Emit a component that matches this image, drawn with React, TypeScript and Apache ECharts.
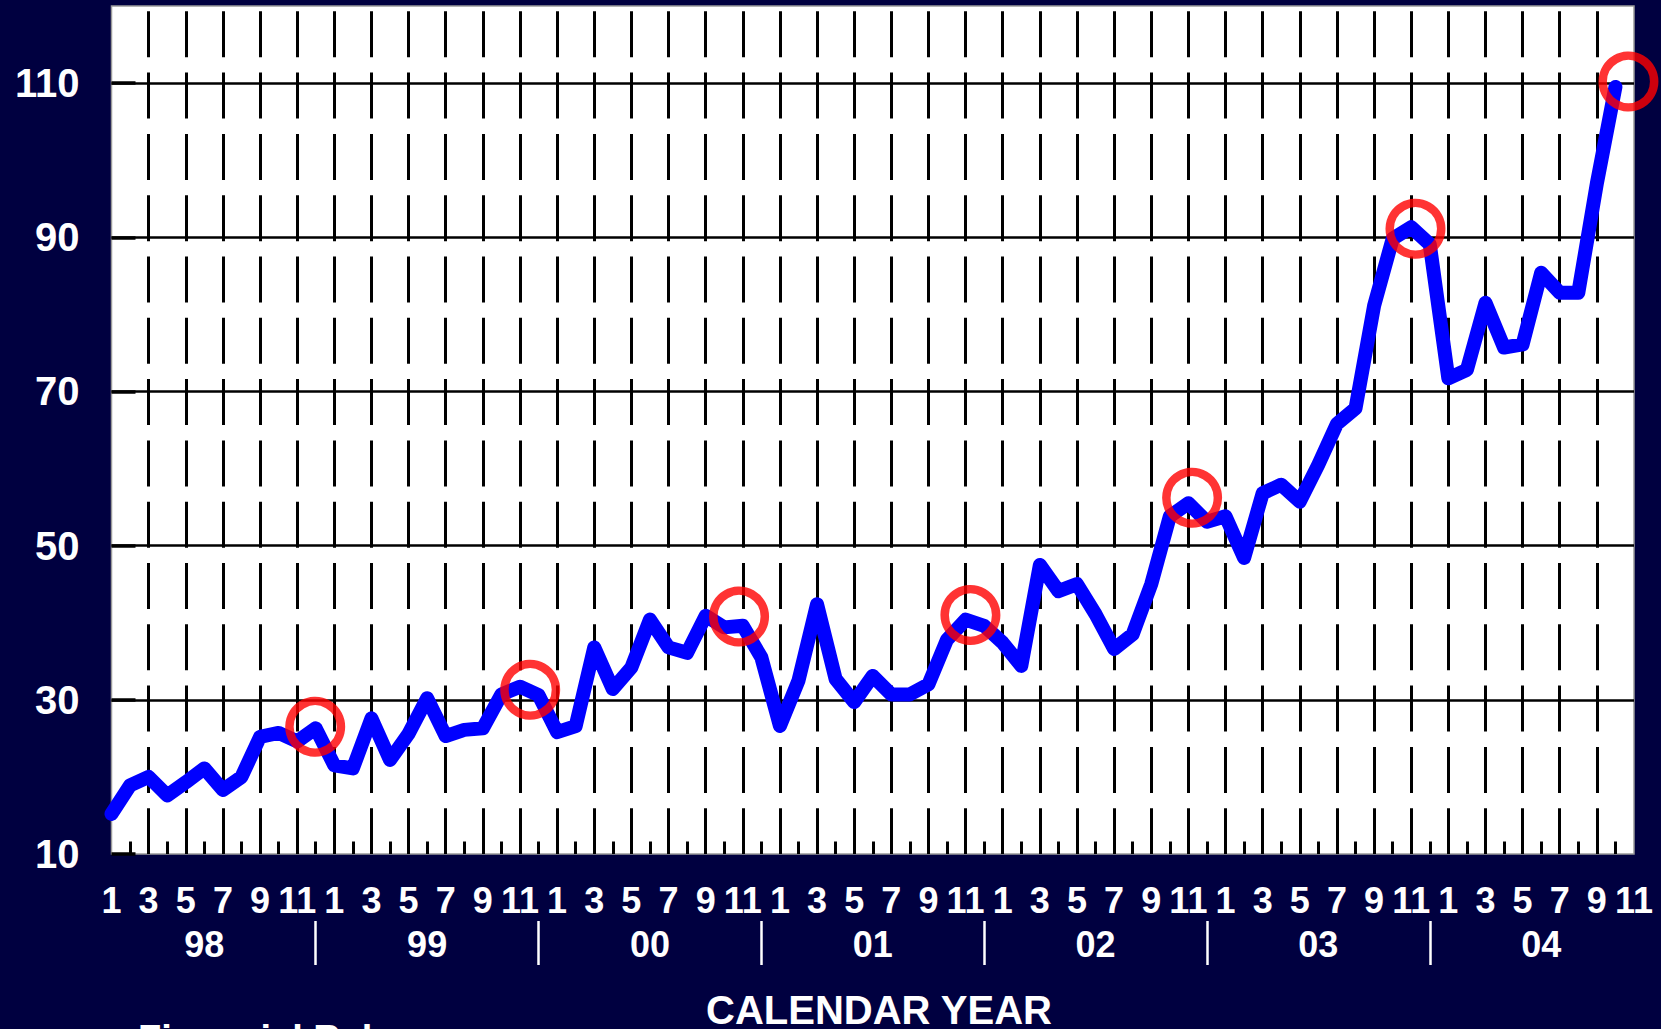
import React, { useEffect, useRef } from 'react';
import * as echarts from 'echarts';

const YEARS = ['98', '99', '00', '01', '02', '03', '04'];
const MONTHS = ['1', '2', '3', '4', '5', '6', '7', '8', '9', '10', '11', '12'];
const MONTHS_IN_LAST_YEAR = 11;

// Monthly values, Jan 98 .. Oct 04
const VALUES = [
  15.2, 18.9, 20.0, 17.6, 19.3, 21.1, 18.3, 20.0, 25.2, 25.7, 24.6, 26.3,
  21.5, 21.1, 27.6, 22.2, 25.6, 30.2, 25.3, 26.1, 26.3, 30.7, 31.7, 30.6,
  25.8, 26.6, 36.8, 31.4, 34.2, 40.4, 36.8, 36.1, 40.9, 39.4, 39.6, 35.5,
  26.6, 32.5, 42.4, 32.7, 29.7, 33.1, 30.7, 30.7, 32.0, 37.8, 40.4, 39.6,
  37.4, 34.4, 47.5, 44.1, 45.0, 41.1, 36.6, 38.5, 45.0, 53.8, 55.5, 53.1,
  53.8, 48.4, 56.8, 57.9, 55.7, 60.5, 65.8, 67.8, 81.1, 89.8, 91.3, 89.1,
  71.7, 72.8, 81.5, 75.7, 76.1, 85.4, 82.8, 82.8, 97.0, 109.5,
];

// Hand-drawn red annotation circles: [month index, value]
const CIRCLE_MARKS = [
  [10.97, 26.5],
  [22.55, 31.3],
  [33.8, 40.8],
  [46.26, 41.0],
  [58.2, 56.2],
  [70.23, 91.1],
  [81.7, 110.2],
];

const Y_MIN = 10;
const Y_MAX = 120;
const Y_STEP = 20;

const CATEGORIES: string[] = [];
YEARS.forEach((y, yi) => {
  MONTHS.forEach((m, mi) => {
    if (yi < YEARS.length - 1 || mi < MONTHS_IN_LAST_YEAR) CATEGORIES.push(`${y}-${m}`);
  });
});

const FONT = '"Liberation Sans", Arial, Helvetica, sans-serif';

export default function App() {
  const ref = useRef<HTMLDivElement>(null);
  useEffect(() => {
    if (!ref.current) return;
    const chart = echarts.init(ref.current, undefined, { renderer: 'svg' });
    const labelStyle = {
      color: '#ffffff',
      fontSize: 36,
      fontWeight: 'bold' as const,
      fontFamily: FONT,
    };
    chart.setOption({
      animation: false,
      backgroundColor: '#000040',
      grid: {
        left: 111.5,
        top: 6,
        width: 1522.5,
        height: 848,
        show: true,
        backgroundColor: '#ffffff',
        borderColor: '#9a9a9a',
        borderWidth: 1.5,
      },
      xAxis: [
        {
          type: 'category',
          data: CATEGORIES,
          boundaryGap: false,
          axisLine: { show: false },
          axisTick: {
            show: true,
            inside: true,
            length: 12.5,
            interval: (i: number) => i % 2 === 1,
            lineStyle: { color: '#000', width: 3 },
          },
          axisLabel: {
            ...labelStyle,
            interval: (i: number) => i % 2 === 0,
            formatter: (v: string) => v.split('-')[1],
            margin: 28,
          },
          splitLine: {
            show: true,
            interval: (i: number) => i % 2 === 0 && i > 0 && i < CATEGORIES.length - 1,
            lineStyle: { color: '#000', width: 3, type: [46, 15.3], dashOffset: 56 },
          },
        },
        {
          type: 'category',
          data: CATEGORIES,
          boundaryGap: false,
          position: 'bottom',
          offset: 67,
          axisLine: { show: false },
          axisTick: {
            show: true,
            interval: (i: number) => i % 12 === 11,
            length: 44,
            lineStyle: { color: '#fff', width: 2.5 },
          },
          axisLabel: {
            ...labelStyle,
            interval: (i: number) => i % 12 === 5,
            formatter: (v: string) => v.split('-')[0],
            margin: 5,
          },
          splitLine: { show: false },
        },
        { type: 'value', min: 0, max: CATEGORIES.length - 1, show: false },
      ],
      yAxis: {
        type: 'value',
        min: Y_MIN,
        max: Y_MAX,
        interval: Y_STEP,
        axisLine: { show: false },
        axisTick: {
          show: true,
          inside: true,
          length: 24,
          lineStyle: { color: '#000', width: 3.5 },
        },
        axisLabel: {
          ...labelStyle,
          fontSize: 40,
          showMaxLabel: false,
          margin: 32,
        },
        splitLine: {
          show: true,
          showMinLine: false,
          showMaxLine: false,
          lineStyle: { color: '#000', width: 2.5 },
        },
      },
      series: [
        {
          type: 'line',
          data: VALUES,
          xAxisIndex: 0,
          showSymbol: false,
          symbol: 'none',
          lineStyle: { color: '#0000ff', width: 14, cap: 'round', join: 'round' },
          z: 3,
        },
        {
          type: 'scatter',
          xAxisIndex: 2,
          data: CIRCLE_MARKS,
          symbol: 'circle',
          symbolSize: 51.5,
          clip: false,
          silent: true,
          itemStyle: { color: 'rgba(0,0,0,0)', borderColor: '#ff0000', borderWidth: 8.5 },
          z: 4,
        },
      ],
      graphic: [
        {
          type: 'text',
          x: 879,
          y: 1010,
          style: {
            text: 'CALENDAR YEAR',
            fill: '#ffffff',
            font: `bold 40px ${FONT}`,
            textAlign: 'center',
            textVerticalAlign: 'middle',
          },
        },
        {
          type: 'text',
          x: 138,
          y: 1039,
          style: {
            text: 'Financial Rela',
            fill: '#ffffff',
            font: `bold 38px ${FONT}`,
            textAlign: 'left',
            textVerticalAlign: 'middle',
          },
        },
      ],
    });
    return () => chart.dispose();
  }, []);
  return (
    <div
      ref={ref}
      style={{ position: 'absolute', left: 0, top: 0, width: 1661, height: 1029 }}
    />
  );
}
